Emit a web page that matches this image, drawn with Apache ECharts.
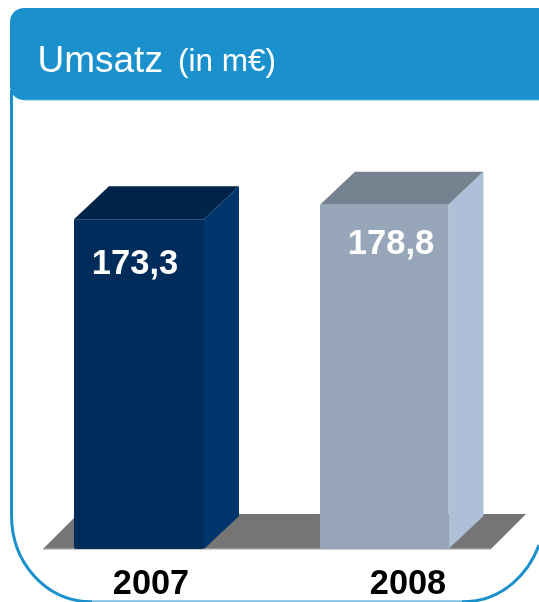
<!DOCTYPE html>
<html><head><meta charset="utf-8">
<style>html,body{margin:0;padding:0;background:#fff}#c{width:539px;height:602px}</style>
<script src="https://cdn.jsdelivr.net/npm/echarts@6/dist/echarts.min.js"></script>
</head><body><div id="c"></div>
<script>
const categories = ['2007', '2008'];
const values = [173.3, 178.8];
const frontColors = ['#002c5b', '#97a6b9'];
const topColors = ['#002447', '#76828f'];
const sideColors = ['#00346c', '#aebfd8'];
const barWidths = [130, 128.5];
const labelShiftX = [-4, 6.8];
const labelShiftY = [45, 40];
const FONT = '"Liberation Sans", Arial, sans-serif';
const DX = 35, DY = 33;
const BLUE = '#1a90cc';
const frameStyle = {fill: 'none', stroke: BLUE, lineWidth: 3};
const AXIS_MIN = 48, AXIS_MAX = 184;

const chart = echarts.init(document.getElementById('c'), null, {renderer: 'canvas'});
chart.setOption({
  animation: false,
  backgroundColor: '#ffffff',
  grid: [
    {left: 16.4, width: 490.4, top: 191, height: 358},
    {left: 22.5, width: 514, top: 191, height: 358}
  ],
  xAxis: [
    {type: 'category', gridIndex: 0, data: categories, axisLine: {show: false}, axisTick: {show: false}, axisLabel: {show: false}},
    {type: 'category', gridIndex: 1, data: categories, axisLine: {show: false}, axisTick: {show: false},
     axisLabel: {show: true, color: '#000000', fontFamily: FONT, fontWeight: 'bold', fontSize: 34.3, margin: 20}}
  ],
  yAxis: [
    {type: 'value', gridIndex: 0, min: AXIS_MIN, max: AXIS_MAX, show: false},
    {type: 'value', gridIndex: 1, min: AXIS_MIN, max: AXIS_MAX, show: false}
  ],
  graphic: [
    {type: 'polygon', z: -2, silent: true, shape: {points: [[43, 549], [78, 514], [526, 514], [491, 549]]}, style: {fill: '#757575'}},
    {type: 'rect', z: -1, silent: true, shape: {x: 43, y: 548, width: 448, height: 1.5}, style: {fill: '#9a9a9a'}},
    {type: 'line', z: -3, silent: true, shape: {x1: 11.5, y1: 90, x2: 11.5, y2: 515}, style: frameStyle},
    {type: 'bezierCurve', z: -3, silent: true, shape: {x1: 11.5, y1: 515, cpx1: 11.5, cpy1: 562, cpx2: 45, cpy2: 601.8, x2: 92, y2: 601.8}, style: frameStyle},
    {type: 'line', z: -3, silent: true, shape: {x1: 92, y1: 601.8, x2: 462, y2: 601.8}, style: Object.assign({}, frameStyle, {stroke: '#7fbfe0'})},
    {type: 'bezierCurve', z: -3, silent: true, shape: {x1: 462, y1: 601.8, cpx1: 505, cpy1: 601.8, cpx2: 530, cpy2: 570, x2: 539, y2: 545}, style: frameStyle},
    {type: 'rect', z: 3, silent: true, shape: {x: 10, y: 8, width: 529, height: 92, r: [14, 0, 0, 14]}, style: {fill: BLUE}},
    {type: 'rect', z: 4, silent: true, shape: {x: 24, y: 99.5, width: 515, height: 1}, style: {fill: '#63b4de'}},
    {type: 'text', z: 5, silent: true, style: {x: 37.5, y: 62, text: 'Umsatz', fill: '#ffffff', font: '37px ' + FONT, textVerticalAlign: 'middle'}},
    {type: 'text', z: 5, silent: true, style: {x: 178, y: 62, text: '(in m€)', fill: '#ffffff', font: '31.5px ' + FONT, textVerticalAlign: 'middle'}}
  ],
  series: [{
    type: 'custom',
    coordinateSystem: 'cartesian2d',
    xAxisIndex: 0, yAxisIndex: 0,
    data: values.map((v, i) => [i, v]),
    z: 2,
    clip: false,
    renderItem(params, api) {
      const i = api.value(0);
      const t = api.coord([i, api.value(1)]);
      const b = api.coord([i, AXIS_MIN]);
      const w = barWidths[i];
      const l = t[0] - w / 2, r = t[0] + w / 2;
      return {type: 'group', children: [
        {type: 'polygon', shape: {points: [[l, t[1]], [l + DX, t[1] - DY], [r + DX, t[1] - DY], [r, t[1]]]}, style: {fill: topColors[i]}},
        {type: 'polygon', shape: {points: [[r, t[1]], [r + DX, t[1] - DY], [r + DX, b[1] - DY], [r, b[1]]]}, style: {fill: sideColors[i]}},
        {type: 'rect', shape: {x: l, y: t[1], width: w, height: b[1] - t[1], r: [0, 0, 2, 2]}, style: {fill: frontColors[i]}},
        {type: 'text', style: {x: t[0] + labelShiftX[i], y: t[1] + labelShiftY[i],
          text: String(api.value(1)).replace('.', ','), fill: '#ffffff', font: 'bold 34.5px ' + FONT,
          textAlign: 'center', textVerticalAlign: 'middle'}}
      ]};
    }
  }]
});
</script></body></html>
